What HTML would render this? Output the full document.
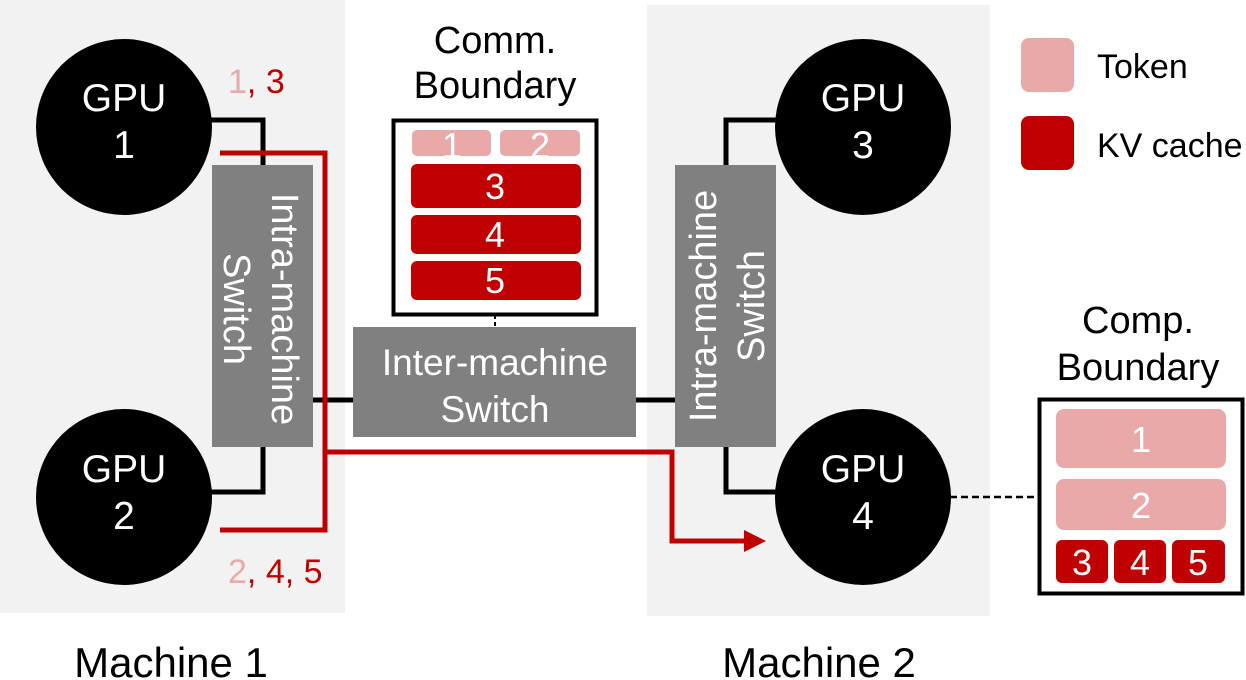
<!DOCTYPE html>
<html><head><style>
html,body{margin:0;padding:0;background:#fff}
svg{display:block}
text{font-family:"Liberation Sans",Arial,sans-serif}
</style></head><body>
<svg width="1246" height="680" viewBox="0 0 1246 680" xmlns="http://www.w3.org/2000/svg">
<rect x="0" y="0" width="345" height="613" fill="#f2f2f2"/>
<rect x="647" y="5" width="343" height="611" fill="#f2f2f2"/>
<g stroke="#000" stroke-width="5" fill="none">
<polyline points="205,120 263,120 263,168"/>
<polyline points="263,445 263,492 205,492"/>
<line x1="311" y1="400" x2="355" y2="400"/>
<line x1="634" y1="400" x2="677" y2="400"/>
<polyline points="726,168 726,120 790,120"/>
<polyline points="726,445 726,492 790,492"/>
</g>
<line x1="495" y1="315" x2="495" y2="328" stroke="#000" stroke-width="2" stroke-dasharray="4,3"/>
<line x1="950" y1="497" x2="1040" y2="497" stroke="#000" stroke-width="2.5" stroke-dasharray="7,4"/>
<rect x="212" y="165" width="101" height="282" fill="#808080"/>
<rect x="675" y="165" width="101" height="282" fill="#808080"/>
<rect x="353" y="327" width="283" height="110" fill="#808080"/>
<text x="0" y="0" fill="#fff" font-size="38" text-anchor="middle" transform="translate(262,309) rotate(90)"><tspan x="0" dy="-10">Intra-machine</tspan><tspan x="0" dy="48">Switch</tspan></text>
<text x="0" y="0" fill="#fff" font-size="38" text-anchor="middle" transform="translate(726,306) rotate(-90)"><tspan x="0" dy="-10">Intra-machine</tspan><tspan x="0" dy="48">Switch</tspan></text>
<text x="495" y="375" fill="#fff" font-size="37" text-anchor="middle">Inter-machine</text>
<text x="495" y="422" fill="#fff" font-size="37" text-anchor="middle">Switch</text>
<g stroke="#c00000" stroke-width="5" fill="none">
<polyline points="220,153 325,153 325,530 220,530"/>
<polyline points="325,452 672,452 672,541 745,541"/>
</g>
<polygon points="744,530 766,541 744,552" fill="#c00000"/>
<circle cx="124" cy="127" r="88" fill="#000"/>
<circle cx="124" cy="497" r="88" fill="#000"/>
<circle cx="863" cy="127" r="88" fill="#000"/>
<circle cx="863" cy="497" r="88" fill="#000"/>
<g fill="#fff" font-size="39" text-anchor="middle">
<text x="124" y="111">GPU</text><text x="124" y="158">1</text>
<text x="124" y="482">GPU</text><text x="124" y="529">2</text>
<text x="863" y="111">GPU</text><text x="863" y="158">3</text>
<text x="863" y="482">GPU</text><text x="863" y="529">4</text>
</g>
<text x="228" y="93" font-size="34"><tspan fill="#eaa9a9">1</tspan><tspan fill="#c00000">, 3</tspan></text>
<text x="228" y="583" font-size="34"><tspan fill="#eaa9a9">2</tspan><tspan fill="#c00000">, 4, 5</tspan></text>
<text x="495" y="53" font-size="38" text-anchor="middle">Comm.</text>
<text x="495" y="98" font-size="38" text-anchor="middle">Boundary</text>
<rect x="393.5" y="120.5" width="203" height="194" fill="#fff" stroke="#000" stroke-width="4"/>
<rect x="412" y="130" width="79" height="26" rx="5" fill="#eaa9a9"/>
<rect x="500" y="130" width="80" height="26" rx="5" fill="#eaa9a9"/>
<text x="452" y="158" fill="#fff" font-size="36" text-anchor="middle">1</text>
<text x="540" y="158" fill="#fff" font-size="36" text-anchor="middle">2</text>
<rect x="411" y="164" width="170" height="44" rx="6" fill="#c00000"/>
<rect x="411" y="215" width="170" height="39" rx="6" fill="#c00000"/>
<rect x="411" y="261" width="170" height="39" rx="6" fill="#c00000"/>
<g fill="#fff" font-size="36" text-anchor="middle">
<text x="495" y="199">3</text><text x="495" y="247">4</text><text x="495" y="293">5</text>
</g>
<text x="1138" y="333" font-size="38" text-anchor="middle">Comp.</text>
<text x="1138" y="380" font-size="38" text-anchor="middle">Boundary</text>
<rect x="1039.5" y="399.5" width="203" height="194" fill="#fff" stroke="#000" stroke-width="4"/>
<rect x="1056" y="409" width="170" height="59" rx="8" fill="#eaa9a9"/>
<rect x="1056" y="479" width="170" height="51" rx="8" fill="#eaa9a9"/>
<rect x="1056" y="540" width="52" height="43" rx="6" fill="#c00000"/>
<rect x="1114" y="540" width="52" height="43" rx="6" fill="#c00000"/>
<rect x="1172" y="540" width="53" height="43" rx="6" fill="#c00000"/>
<g fill="#fff" font-size="36" text-anchor="middle">
<text x="1141" y="452">1</text><text x="1141" y="518">2</text>
<text x="1082" y="575">3</text><text x="1140" y="575">4</text><text x="1198" y="575">5</text>
</g>
<rect x="1021" y="38" width="53" height="54" rx="8" fill="#eaa9a9"/>
<rect x="1021" y="116" width="53" height="54" rx="8" fill="#c00000"/>
<text x="1097" y="78" font-size="34">Token</text>
<text x="1097" y="157" font-size="34">KV cache</text>
<text x="171" y="677" font-size="42" text-anchor="middle">Machine 1</text>
<text x="819" y="677" font-size="42" text-anchor="middle">Machine 2</text>
</svg>
</body></html>
